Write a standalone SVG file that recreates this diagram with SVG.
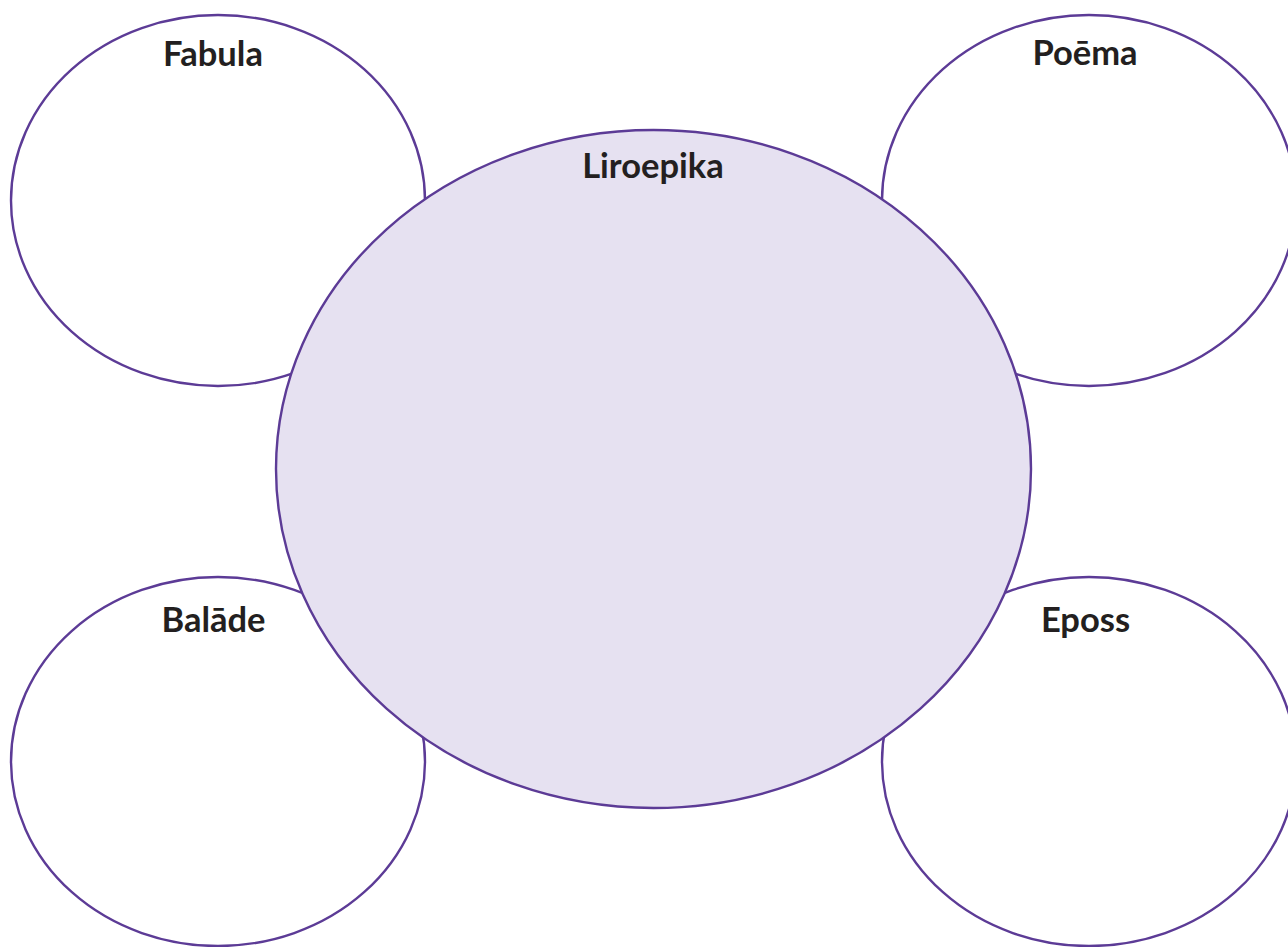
<svg xmlns="http://www.w3.org/2000/svg" width="1288" height="947" viewBox="0 0 1288 947">
<style>
.outer{fill:#ffffff;stroke:#5c3b96;stroke-width:2.4}
.center{fill:#e6e1f1;stroke:#5c3b96;stroke-width:2.4}
.lbl{font-family:Lato,"Open Sans","Liberation Sans",sans-serif;font-weight:bold;font-size:34.5px;fill:#231f20;text-anchor:middle}
</style>
<rect width="1288" height="947" fill="#ffffff"/>
<g id="fabula">
<ellipse class="outer" cx="218" cy="200.5" rx="207" ry="185.5"/>
<text class="lbl" x="213" y="66">Fabula</text>
</g>
<g id="poema">
<ellipse class="outer" cx="1089" cy="200.5" rx="207" ry="185.5"/>
<text class="lbl" x="1085" y="65">Poēma</text>
</g>
<g id="balade">
<ellipse class="outer" cx="218" cy="761.5" rx="207" ry="184.5"/>
<text class="lbl" x="213.5" y="632">Balāde</text>
</g>
<g id="eposs">
<ellipse class="outer" cx="1089" cy="761.5" rx="207" ry="184.5"/>
<text class="lbl" x="1085.5" y="632">Eposs</text>
</g>
<g id="liroepika">
<ellipse class="center" cx="653.5" cy="469" rx="377.5" ry="339"/>
<text class="lbl" x="653" y="178">Liroepika</text>
</g>
<g id="connectors"></g>
</svg>
